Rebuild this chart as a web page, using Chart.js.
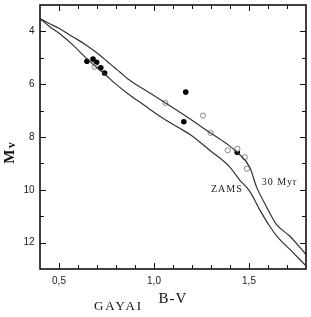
<!DOCTYPE html>
<html>
<head>
<meta charset="utf-8">
<script src="https://cdn.jsdelivr.net/npm/chart.js@4.4.1/dist/chart.umd.min.js"></script>
<style>
html,body{margin:0;padding:0;background:#fff;}
canvas{display:block;}
</style>
</head>
<body>
<canvas id="c" width="311" height="317"></canvas>
<script>
// ZAMS curve (B-V, Mv)
const zamsBV = [0.40, 0.451, 0.504, 0.574, 0.627, 0.697, 0.749, 0.793, 0.863, 0.951, 1.039, 1.126, 1.197, 1.293, 1.398, 1.45, 1.504, 1.556, 1.609, 1.653, 1.714, 1.80];
const zamsMv = [3.52, 3.82, 4.09, 4.52, 4.9, 5.36, 5.67, 5.96, 6.36, 6.81, 7.25, 7.63, 7.94, 8.5, 9.13, 9.62, 10.06, 10.75, 11.38, 11.81, 12.25, 12.88];
// 30 Myr isochrone
const isoBV = [0.40, 0.451, 0.504, 0.574, 0.644, 0.697, 0.749, 0.793, 0.82, 0.863, 0.925, 0.951, 1.06, 1.188, 1.298, 1.381, 1.438, 1.504, 1.539, 1.591, 1.644, 1.714, 1.80];
const isoMv = [3.52, 3.71, 3.9, 4.21, 4.52, 4.8, 5.11, 5.38, 5.54, 5.8, 6.1, 6.21, 6.71, 7.31, 7.85, 8.25, 8.58, 9.15, 9.88, 10.63, 11.31, 11.75, 12.45];
// filled stars
const filledBV = [0.647, 0.679, 0.698, 0.720, 0.740, 1.167, 1.157, 1.438];
const filledMv = [5.13, 5.05, 5.17, 5.38, 5.575, 6.30, 7.42, 8.58];
// open stars
const openBV = [0.688, 1.060, 1.258, 1.298, 1.388, 1.439, 1.478, 1.489];
const openMv = [5.34, 6.71, 7.19, 7.845, 8.50, 8.445, 8.765, 9.20];
// tick labels
const xTickLabels = [0.5, 1.0, 1.5];
const yTickLabels = [4, 6, 8, 10, 12];

const pts = (xs, ys) => xs.map((x, i) => ({x: x, y: ys[i]}));

const decor = {
  id: 'decor',
  afterDraw(chart) {
    const ctx = chart.ctx;
    const a = chart.chartArea;
    const xs = chart.scales.x, ys = chart.scales.y;
    ctx.save();
    ctx.strokeStyle = '#111';
    ctx.lineWidth = 1;
    // inward ticks
    for (let i = 5; i <= 17; i++) {
      const v = i / 10;
      const len = xTickLabels.includes(v) ? 6 : 4;
      const p = Math.round(xs.getPixelForValue(v)) + 0.5;
      ctx.beginPath();
      ctx.moveTo(p, a.bottom); ctx.lineTo(p, a.bottom - len);
      ctx.moveTo(p, a.top); ctx.lineTo(p, a.top + len);
      ctx.stroke();
    }
    for (let v = 4; v <= 12; v++) {
      const len = yTickLabels.includes(v) ? 6 : 4;
      const p = Math.round(ys.getPixelForValue(v)) + 0.5;
      ctx.beginPath();
      ctx.moveTo(a.left, p); ctx.lineTo(a.left + len, p);
      ctx.moveTo(a.right, p); ctx.lineTo(a.right - len, p);
      ctx.stroke();
    }
    // tick labels
    ctx.fillStyle = '#222';
    ctx.font = '10px "Liberation Sans"';
    ctx.textAlign = 'right';
    ctx.textBaseline = 'middle';
    yTickLabels.forEach(v => ctx.fillText(String(v), a.left - 5.5, ys.getPixelForValue(v)));
    ctx.textAlign = 'center';
    xTickLabels.forEach(v => ctx.fillText(v.toFixed(1).replace('.', ','), xs.getPixelForValue(v), a.bottom + 12));
    // frame
    ctx.lineWidth = 1.6;
    ctx.strokeRect(a.left, a.top, a.right - a.left, a.bottom - a.top);
    // curve labels
    ctx.fillStyle = '#222';
    ctx.font = '10px "Liberation Serif"';
    ctx.letterSpacing = '1px';
    ctx.textBaseline = 'middle';
    ctx.textAlign = 'right';
    ctx.fillText('ZAMS', xs.getPixelForValue(1.467), ys.getPixelForValue(10.0));
    ctx.textAlign = 'left';
    ctx.fillText('30 Myr', xs.getPixelForValue(1.567), ys.getPixelForValue(9.72));
    // axis titles
    ctx.fillStyle = '#111';
    ctx.textAlign = 'center';
    ctx.font = '15px "Liberation Serif"';
    ctx.letterSpacing = '1px';
    ctx.fillText('B-V', 173, 299);
    ctx.font = '13px "Liberation Serif"';
    ctx.letterSpacing = '2px';
    ctx.fillText('GAYAI', 118.5, 306.5);
    // Mv rotated
    ctx.translate(10.5, 153);
    ctx.rotate(-Math.PI / 2);
    ctx.letterSpacing = '0px';
    ctx.textAlign = 'left';
    ctx.font = 'bold 15px "Liberation Serif"';
    const mw = ctx.measureText('M').width;
    ctx.font = 'bold 12px "Liberation Serif"';
    const vw = ctx.measureText('v').width;
    const start = -(mw + vw + 1.5) / 2;
    ctx.font = 'bold 15px "Liberation Serif"';
    ctx.fillText('M', start, 0);
    ctx.font = 'bold 12px "Liberation Serif"';
    ctx.fillText('v', start + mw + 1.5, 1);
    ctx.restore();
  }
};

new Chart(document.getElementById('c'), {
  type: 'scatter',
  data: {
    datasets: [
      {label: 'ZAMS', data: pts(zamsBV, zamsMv), showLine: true, borderColor: '#333', borderWidth: 1.2, pointRadius: 0, fill: false, cubicInterpolationMode: 'monotone'},
      {label: '30 Myr', data: pts(isoBV, isoMv), showLine: true, borderColor: '#333', borderWidth: 1.2, pointRadius: 0, fill: false, cubicInterpolationMode: 'monotone'},
      {label: 'open', data: pts(openBV, openMv), pointRadius: 2.6, pointBackgroundColor: '#fff', pointBorderColor: '#888', pointBorderWidth: 1},
      {label: 'filled', data: pts(filledBV, filledMv), pointRadius: 2.8, pointBackgroundColor: '#000', pointBorderColor: '#000', pointBorderWidth: 0}
    ]
  },
  options: {
    responsive: false,
    animation: false,
    devicePixelRatio: 1,
    layout: {padding: {left: 0, right: 5, top: 4, bottom: 0}},
    plugins: {legend: {display: false}, tooltip: {enabled: false}},
    scales: {
      x: {
        type: 'linear', min: 0.4, max: 1.8,
        grid: {display: false, drawTicks: false},
        border: {display: false},
        ticks: {display: false, stepSize: 0.1},
        afterFit: s => { s.height = 48; }
      },
      y: {
        type: 'linear', min: 3, max: 13, reverse: true,
        grid: {display: false, drawTicks: false},
        border: {display: false},
        ticks: {display: false, stepSize: 1},
        afterFit: s => { s.width = 40; }
      }
    }
  },
  plugins: [decor]
});
</script>
</body>
</html>
